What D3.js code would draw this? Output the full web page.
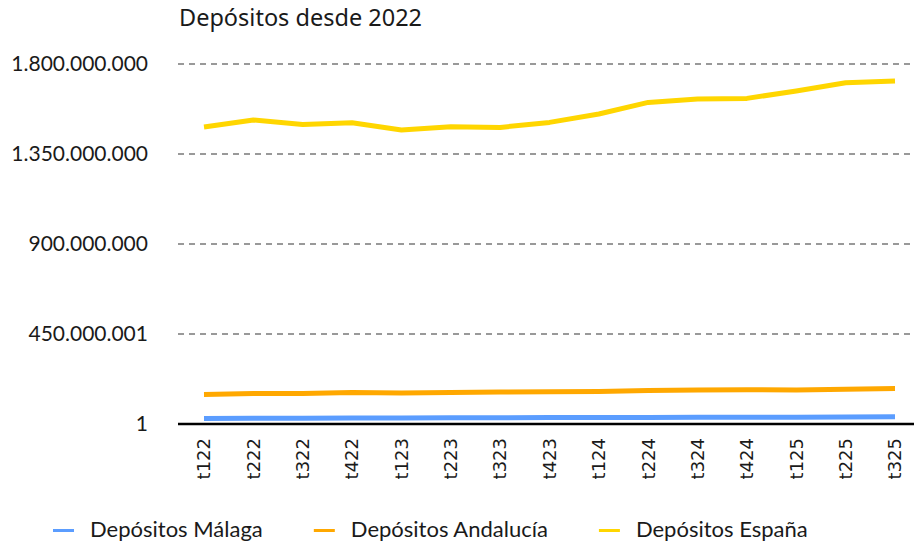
<!DOCTYPE html>
<html>
<head>
    <meta charset="utf-8" />
    <title>Depósitos desde 2022</title>
    <style>
body {
  margin: 0;
  background-color: #ffffff;
}
text {
  fill: #1a1a1a;
  font-family: Lato, sans-serif;
}
#title {
  font-family: "Noto Sans", sans-serif;
  font-size: 23.5px;
}
.ytick {
  font-size: 21px;
  text-anchor: end;
}
.xtick {
  font-family: "DejaVu Sans", sans-serif;
  font-size: 18px;
}
.legend-label {
  font-size: 22px;
}
.grid {
  stroke: #999999;
  stroke-width: 2;
  stroke-dasharray: 6 5;
}
.series {
  fill: none;
  stroke-width: 5;
  stroke-linejoin: round;
}
    </style>
    <script src="https://cdnjs.cloudflare.com/ajax/libs/d3/7.8.5/d3.min.js"></script>
</head>
<body>
    <div id="graph"></div>
<script>
// quarters on the x axis
var quarters = ['t122', 't222', 't322', 't422', 't123', 't223', 't323', 't423',
                't124', 't224', 't324', 't424', 't125', 't225', 't325'];

// deposit series
var malaga = [28e6, 29e6, 29e6, 30e6, 30e6, 31e6, 31e6, 32e6,
              32e6, 33e6, 34e6, 34e6, 34e6, 35e6, 36e6];
var andalucia = [148e6, 152e6, 153e6, 158e6, 155e6, 158e6, 160e6, 161e6,
                 162e6, 168e6, 170e6, 171e6, 170e6, 174e6, 177e6];
var espana = [1485e6, 1520e6, 1498e6, 1506e6, 1470e6, 1486e6, 1483e6, 1508e6,
              1550e6, 1608e6, 1625e6, 1628e6, 1665e6, 1706e6, 1715e6];

var seriesNames = ['Depósitos Málaga', 'Depósitos Andalucía', 'Depósitos España'];
var seriesColors = ['#5b9dff', '#ffa800', '#ffd600'];

// y ticks and their labels as shown
var yTickValues = [1, 450000001, 900000001, 1350000001, 1800000001];
var yTickLabels = ['1', '450.000.001', '900.000.000', '1.350.000.000', '1.800.000.000'];

(function () {
    var w = 914;
    var h = 546;
    var margin = {top: 64, right: 0, bottom: 122, left: 178};

    var svg = d3.select('#graph')
      .append('svg')
      .attr('width', w)
      .attr('height', h);

    var x = d3.scalePoint()
      .domain(quarters)
      .range([204, 895]);

    var y = d3.scaleLinear()
      .domain([1, 1800000001])
      .range([h - margin.bottom, margin.top]);

    svg.append('text')
      .attr('id', 'title')
      .attr('x', 179)
      .attr('y', 26)
      .text('Depósitos desde 2022');

    // dashed gridlines (not at the baseline)
    svg.append('g')
      .selectAll('line')
      .data(yTickValues.slice(1))
      .enter().append('line')
        .attr('class', 'grid')
        .attr('x1', margin.left)
        .attr('x2', w - margin.right)
        .attr('y1', d => y(d))
        .attr('y2', d => y(d));

    // y labels
    svg.append('g')
      .selectAll('text')
      .data(yTickValues)
      .enter().append('text')
        .attr('class', 'ytick')
        .attr('x', 148)
        .attr('y', d => y(d))
        .attr('dy', '0.35em')
        .text((d, i) => yTickLabels[i]);

    // baseline
    svg.append('line')
      .attr('x1', margin.left)
      .attr('x2', w - margin.right)
      .attr('y1', y(1))
      .attr('y2', y(1))
      .attr('stroke', '#000')
      .attr('stroke-width', 2.5);

    // x labels, rotated
    svg.append('g')
      .selectAll('text')
      .data(quarters)
      .enter().append('text')
        .attr('class', 'xtick')
        .attr('text-anchor', 'end')
        .attr('transform', d => `translate(${x(d)}, ${y(1) + 14}) rotate(-90)`)
        .attr('dy', '0.35em')
        .text(d => d);

    var line = d3.line()
      .x((d, i) => x(quarters[i]))
      .y(d => y(d));

    var data = [malaga, andalucia, espana];

    svg.append('g')
      .selectAll('path')
      .data(data)
      .enter().append('path')
        .attr('class', 'series')
        .attr('stroke', (d, i) => seriesColors[i])
        .attr('d', line);

    // legend
    var legend = svg.append('g').attr('id', 'legend');
    var lx = 53;
    seriesNames.forEach(function (name, i) {
        legend.append('line')
          .attr('x1', lx)
          .attr('x2', lx + 21)
          .attr('y1', 530.5)
          .attr('y2', 530.5)
          .attr('stroke', seriesColors[i])
          .attr('stroke-width', 3);
        var t = legend.append('text')
          .attr('class', 'legend-label')
          .attr('x', lx + 37)
          .attr('y', 537)
          .text(name);
        lx = lx + 37 + t.node().getComputedTextLength() + 51;
    });
})();
</script>
</body>
</html>
